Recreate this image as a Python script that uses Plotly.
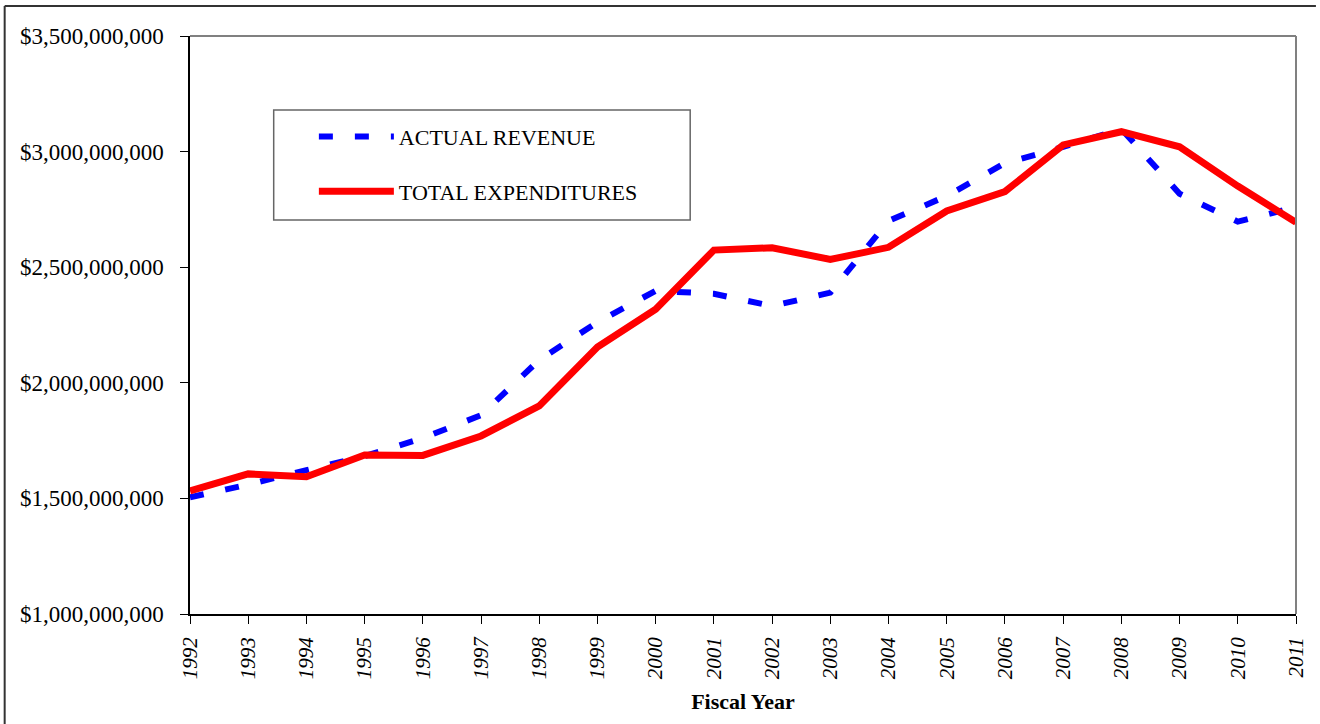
import plotly.graph_objects as go

years = list(range(1992, 2012))

actual_revenue = [1.505e9, 1.560e9, 1.622e9, 1.683e9, 1.761e9, 1.860e9, 2.099e9,
                  2.262e9, 2.398e9, 2.385e9, 2.332e9, 2.390e9, 2.700e9, 2.808e9,
                  2.950e9, 3.020e9, 3.098e9, 2.818e9, 2.697e9, 2.760e9]

total_expenditures = [1.532e9, 1.606e9, 1.594e9, 1.688e9, 1.686e9, 1.770e9, 1.900e9,
                      2.155e9, 2.318e9, 2.574e9, 2.584e9, 2.534e9, 2.586e9, 2.743e9,
                      2.827e9, 3.029e9, 3.086e9, 3.021e9, 2.851e9, 2.694e9]

y_ticks = [1.0e9, 1.5e9, 2.0e9, 2.5e9, 3.0e9, 3.5e9]

serif = "Liberation Serif, Times New Roman, serif"

W, H = 1320, 724
L, R, T, B = 190, 20, 36, 110
pw = W - L - R
ph = H - T - B

fig = go.Figure()

fig.add_trace(go.Scatter(x=years, y=actual_revenue,
                         mode='lines',
                         line=dict(color='#0000ff', width=6, dash='14px,22px'),
                         name='ACTUAL REVENUE',
                         legendgroup='a'))

fig.add_trace(go.Scatter(x=years, y=total_expenditures,
                         mode='lines',
                         line=dict(color='#ff0000', width=7),
                         name='TOTAL EXPENDITURES',
                         legendgroup='b'))

fig.update_layout(
    width=W, height=H,
    margin=dict(l=L, r=R, t=T, b=B),
    paper_bgcolor='white', plot_bgcolor='white',
    font=dict(family=serif, size=23, color='black'),
    showlegend=True,
    legend=dict(x=0.112, y=0.862, xanchor='left', yanchor='top',
                bgcolor='rgba(0,0,0,0)', borderwidth=0,
                itemwidth=75, tracegroupgap=23,
                font=dict(family=serif, size=22, color='black')),
)

fig.update_xaxes(range=[1992, 2011], tickmode='array', tickvals=years,
                 ticktext=[str(y) for y in years],
                 tickangle=-90, tickfont=dict(family=serif, size=21, style='italic'),
                 ticklabelstandoff=5,
                 showline=True, linecolor='black', linewidth=1.5,
                 ticks='outside', ticklen=8, tickcolor='black',
                 showgrid=False, zeroline=False,
                 title=dict(text='<b>Fiscal Year</b>', standoff=15,
                            font=dict(family=serif, size=22)))

fig.update_yaxes(range=[1.0e9, 3.5e9], tickmode='array', tickvals=y_ticks,
                 tickformat='$,.0f', tickfont=dict(family=serif, size=23),
                 ticklabelstandoff=12,
                 showline=True, linecolor='black', linewidth=1.5,
                 ticks='outside', ticklen=8, tickcolor='black',
                 showgrid=False, zeroline=False)

# gray top/right frame of plot area
fig.add_shape(type='line', xref='x domain', yref='y domain', x0=0, x1=1, y0=1, y1=1,
              line=dict(color='#808080', width=2))
fig.add_shape(type='line', xref='x domain', yref='y domain', x0=1, x1=1, y0=0, y1=1,
              line=dict(color='#808080', width=2))

# legend box (pixel positions relative to plot area)
fig.add_shape(type='rect', xref='x domain', yref='y domain',
              x0=(274 - L) / pw, x1=(692 - L) / pw,
              y0=(T + ph - 220) / ph, y1=(T + ph - 110) / ph,
              line=dict(color='#666666', width=1.5), fillcolor='rgba(0,0,0,0)')

# outer chart frame: only its top and left edges are in view
top_y = (T + ph - 6) / ph
left_x = (4 - L) / pw
fig.add_shape(type='line', xref='paper', yref='paper',
              x0=left_x, x1=(W - L) / pw, y0=top_y, y1=top_y,
              line=dict(color='#333333', width=2))
fig.add_shape(type='line', xref='paper', yref='paper',
              x0=left_x, x1=left_x, y0=top_y, y1=(T + ph - H) / ph,
              line=dict(color='#333333', width=2))

# drop the default page margin so the figure fills the window exactly
fig.write_html("out.html",
               config={'displayModeBar': False},
               post_script="document.body.style.margin='0';"
                           "document.body.style.overflow='hidden';")
